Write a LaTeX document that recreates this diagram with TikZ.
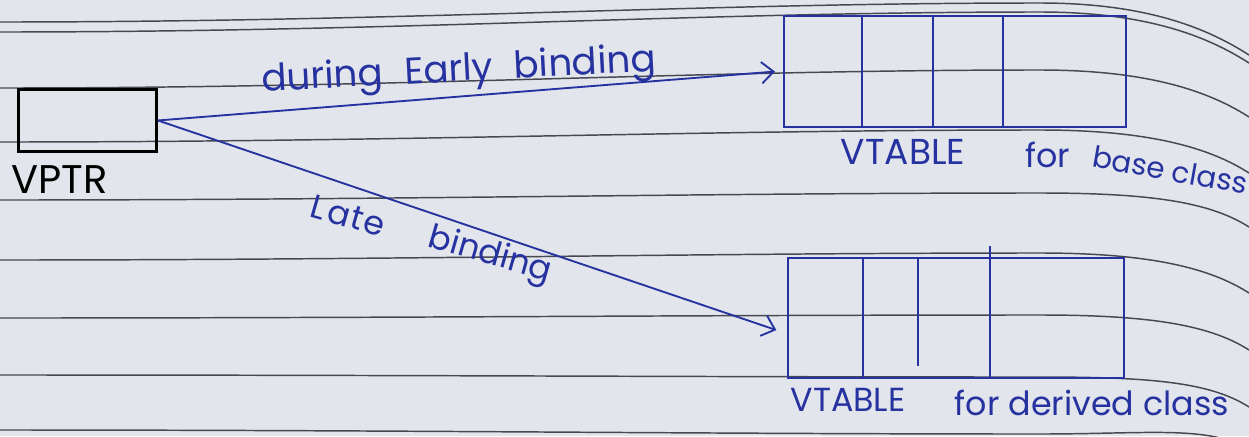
\documentclass[tikz,border=0pt]{standalone}
\usepackage{fontspec}
\setmainfont{Poppins}
\usetikzlibrary{arrows.meta}
\definecolor{ink}{RGB}{38,50,160}
\definecolor{paper}{RGB}{226,229,236}
\definecolor{ruling}{RGB}{70,72,82}

\begin{document}
\begin{tikzpicture}[x=0.75pt,y=0.75pt,yscale=-1,xscale=1,
  hand/.style={font=\fontsize{25}{30}\selectfont, text=ink, inner sep=0.75pt},
  cell/.style={draw=ink, line width=1.6pt, inner sep=0pt, anchor=north west},
  link/.style={draw=ink, line width=1.4pt, -{Straight Barb[length=9pt,width=16pt,line width=1.4pt]}}]
\useasboundingbox[fill=paper] (0,0) rectangle (1249,436);

%Paper rulings
\foreach \a/\b/\c in {22/3/55, 32/12/63, 88/70/117, 142/130/173, 200/193/227, 260/253/293, 318/315/350, 375/377/407, 430/434/450}
  \draw[ruling, line width=1.1pt] (0,\a) .. controls (400,\a) and (700,\b) .. (1040,\b) .. controls (1150,\b) and (1210,\c-25) .. (1249,\c);

%VPTR box
\node[draw=black, line width=2.2pt, minimum width=103.5pt, minimum height=46.5pt, anchor=north west] (vptr) at (17,88) {};
\node[hand, text=black, font=\fontsize{30}{36}\selectfont, anchor=north west] (vptrlabel) at (10,164) {VPTR};

%VTABLE for base class
\node[cell, minimum width=256.5pt, minimum height=83.25pt] (base) at (783,15) {};
\foreach \x in {862,933,1003}
  \draw[ink, line width=1.6pt] (\x,15) -- (\x,126);

%VTABLE for derived class
\node[cell, minimum width=252pt, minimum height=90pt] (derived) at (787,257) {};
\draw[ink, line width=1.6pt] (863,257) -- (863,377);
\draw[ink, line width=1.6pt] (918,257) -- (918,366);
\draw[ink, line width=1.6pt] (990,246) -- (990,377);

%Bindings
\draw[link] (vptr.east) -- ([xshift=-6pt]base.west);
\draw[link] (vptr.east) -- ([xshift=-8pt,yshift=9pt]derived.west);

% Text Node
\node[hand, font=\fontsize{28}{34}\selectfont, rotate=3] (early) at (459,72) {during\hspace{16pt}Early\hspace{16pt}binding};
% Text Node
\node[hand, rotate=-16] (late) at (348,216) {L\kern2pt a\kern1pt t\kern1pt e};
\node[hand, rotate=-16] (latebind) at (490,256) {binding};
% Text Node
\node[hand, font=\fontsize{27}{32}\selectfont] (basevt) at (903,152) {VTABLE};
\node[hand] (basefor) at (1048,155) {for};
\node[hand, font=\fontsize{22}{26}\selectfont, rotate=-10] (basecls) at (1170,170) {base class};
% Text Node
\node[hand] (derivedvt) at (848,400) {VTABLE};
\node[hand] (derivedfor) at (1092,403) {for derived class};

\end{tikzpicture}
\end{document}
